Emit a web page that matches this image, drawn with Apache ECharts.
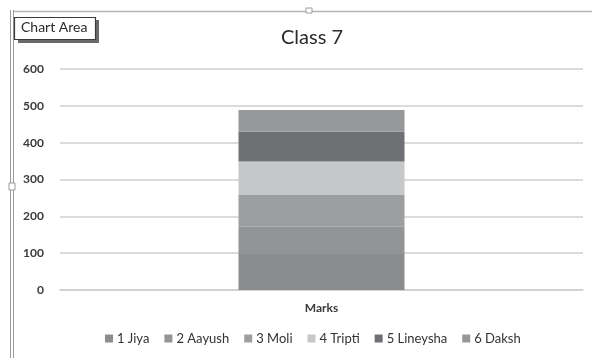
<!DOCTYPE html>
<html>
<head>
<meta charset="utf-8">
<script src="https://cdn.jsdelivr.net/npm/echarts@6/dist/echarts.min.js"></script>
<style>
  html, body { margin: 0; padding: 0; background: #fff; }
  #chart { width: 592px; height: 358px; }
</style>
</head>
<body>
<div id="chart"></div>
<script>
// Stacked marks of each student in Class 7
const categories = ['Marks'];
const students = ['1 Jiya', '2 Aayush', '3 Moli', '4 Tripti', '5 Lineysha', '6 Daksh'];
const marks = [98, 74, 86, 91, 81, 59];
const yTicks = [0, 100, 200, 300, 400, 500, 600];

const colors = ['#8b8c8e', '#939496', '#9d9ea0', '#c6c7c9', '#6f7073', '#97989a'];
const font = 'Lato, "Open Sans", sans-serif';

const chart = echarts.init(document.getElementById('chart'), null, { renderer: 'canvas' });

const series = students.map((name, i) => ({
  name: name,
  type: 'bar',
  stack: 'total',
  barWidth: 166,
  data: [marks[i]],
  itemStyle: { color: colors[i] },
  emphasis: { disabled: true }
}));

chart.setOption({
  animation: false,
  color: colors,
  title: {
    text: 'Class 7',
    left: 307,
    top: 23,
    textAlign: 'center',
    textStyle: { fontFamily: font, fontSize: 20, fontWeight: 'normal', color: '#2b2b2b' }
  },
  legend: {
    bottom: 8,
    left: 100,
    itemWidth: 8,
    itemHeight: 8,
    itemGap: 15,
    icon: 'rect',
    textStyle: { fontFamily: font, fontSize: 13, color: '#333', padding: [0, 0, 0, -1] },
    data: students
  },
  grid: { left: 60, right: 9, top: 69, bottom: 68, containLabel: false },
  xAxis: {
    type: 'category',
    data: categories,
    axisLine: { lineStyle: { color: '#cfcfcf', width: 1.5 } },
    axisTick: { show: false },
    axisLabel: { fontFamily: font, fontSize: 12, fontWeight: 'bold', color: '#3a3a3a', margin: 12 }
  },
  yAxis: {
    type: 'value',
    min: yTicks[0],
    max: yTicks[yTicks.length - 1],
    interval: yTicks[1] - yTicks[0],
    axisLine: { show: false },
    axisTick: { show: false },
    splitLine: { lineStyle: { color: '#cfcfcf', width: 1.5 } },
    axisLabel: { fontFamily: font, fontSize: 12, fontWeight: 'bold', color: '#3a3a3a', margin: 16 }
  },
  series: series,
  graphic: [
    // chart area frame
    { type: 'line', shape: { x1: 10.5, y1: 10, x2: 10.5, y2: 358 }, style: { stroke: '#9a9a9a', lineWidth: 1 } },
    { type: 'line', shape: { x1: 13.5, y1: 10, x2: 13.5, y2: 358 }, style: { stroke: '#9a9a9a', lineWidth: 1 } },
    { type: 'line', shape: { x1: 14, y1: 11.5, x2: 592, y2: 11.5 }, style: { stroke: '#b5b5b5', lineWidth: 1.5 } },
    // resize handles
    { type: 'rect', shape: { x: 306, y: 8, width: 6, height: 5 }, style: { fill: '#fff', stroke: '#9a9a9a', lineWidth: 1 } },
    { type: 'rect', shape: { x: 9, y: 183, width: 6, height: 7 }, style: { fill: '#fff', stroke: '#9a9a9a', lineWidth: 1 } },
    // "Chart Area" hover label
    { type: 'rect', shape: { x: 18, y: 20, width: 81, height: 23 }, style: { fill: '#6a6a6a' } },
    { type: 'rect', shape: { x: 14.5, y: 17.5, width: 81, height: 22 }, style: { fill: '#fff', stroke: '#3c3c3c', lineWidth: 1.2 } },
    {
      type: 'text', left: 21, top: 20,
      style: { text: 'Chart Area', font: '14px ' + font, fill: '#2b2b2b' }
    }
  ]
});
</script>
</body>
</html>
